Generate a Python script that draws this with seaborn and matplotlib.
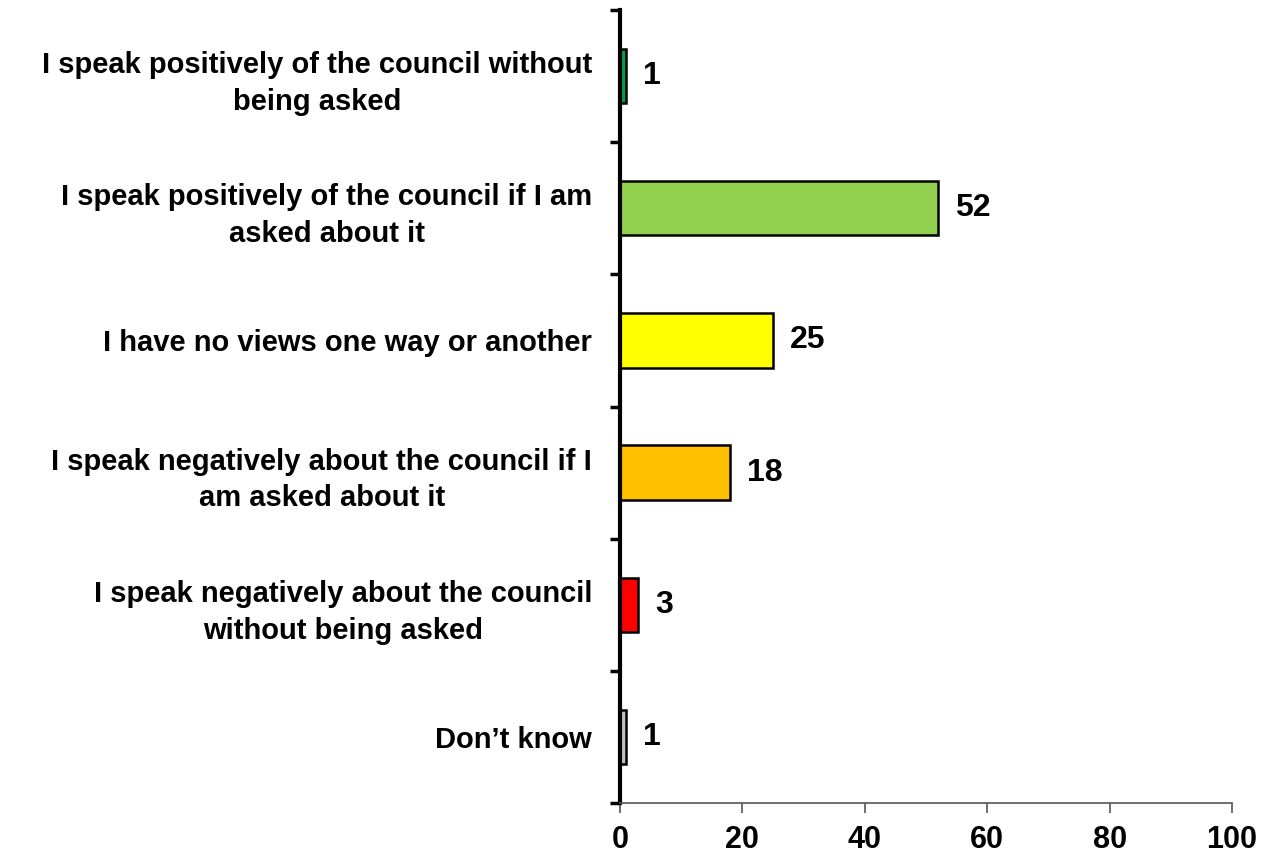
import matplotlib
matplotlib.use("Agg")
import matplotlib.pyplot as plt
import seaborn as sns
import pandas as pd
from matplotlib.ticker import FixedLocator

categories = [
    "I speak positively of the council without\nbeing asked",
    "I speak positively of the council if I am\nasked about it",
    "I have no views one way or another",
    "I speak negatively about the council if I\nam asked about it",
    "I speak negatively about the council\nwithout being asked",
    "Don\u2019t know",
]
values = [1, 52, 25, 18, 3, 1]
colors = ["#00A050", "#92D050", "#FFFF00", "#FFC000", "#FF0000", "#C0C0C0"]
xticks = [0, 20, 40, 60, 80, 100]

sns.set_theme(style="white")
plt.rcParams["font.family"] = ["Liberation Sans", "DejaVu Sans"]
plt.rcParams["font.weight"] = "bold"
plt.rcParams["text.color"] = "black"
plt.rcParams["xtick.color"] = "black"
plt.rcParams["ytick.color"] = "black"

df = pd.DataFrame({"cat": categories, "val": values})

fig = plt.figure(figsize=(12.64, 8.57), dpi=100)
ax = fig.add_axes([620/1264, 1-803/857, (1232-620)/1264, (803-10)/857])

sns.barplot(data=df, x="val", y="cat", hue="cat", palette=colors, legend=False,
            saturation=1, edgecolor="black", linewidth=1.8, width=0.41,
            orient="h", ax=ax)

ax.set_xlim(0, 100)
ax.set_ylim(len(categories) - 0.5, -0.5)
ax.set_xticks(xticks)
ax.set_xticklabels([str(t) for t in xticks], fontsize=22, fontweight="bold", color="black")
ax.set_yticks(range(len(categories)))
ax.set_yticklabels(categories, fontsize=21, fontweight="bold", color="black",
                   multialignment="center", linespacing=1.4)
ax.tick_params(axis="y", which="major", length=0, pad=20)
ax.yaxis.set_minor_locator(FixedLocator([i - 0.5 for i in range(len(categories) + 1)]))
ax.tick_params(axis="y", which="minor", left=True, length=7, width=2.5, color="black")
ax.tick_params(axis="x", which="major", bottom=True, length=7, width=1.2, color="#555555",
               labelcolor="black", pad=9)
ax.set_xlabel("")
ax.set_ylabel("")

for s in ["top", "right"]:
    ax.spines[s].set_visible(False)
ax.spines["left"].set_color("black")
ax.spines["left"].set_linewidth(3)
ax.spines["bottom"].set_color("#555555")
ax.spines["bottom"].set_linewidth(1.2)

for i, v in enumerate(values):
    ax.annotate(str(v), xy=(v, i), xytext=(12, 0), textcoords="offset points",
                va="center", ha="left", fontsize=23, fontweight="bold", color="black")

fig.savefig("out.png", dpi=100)
